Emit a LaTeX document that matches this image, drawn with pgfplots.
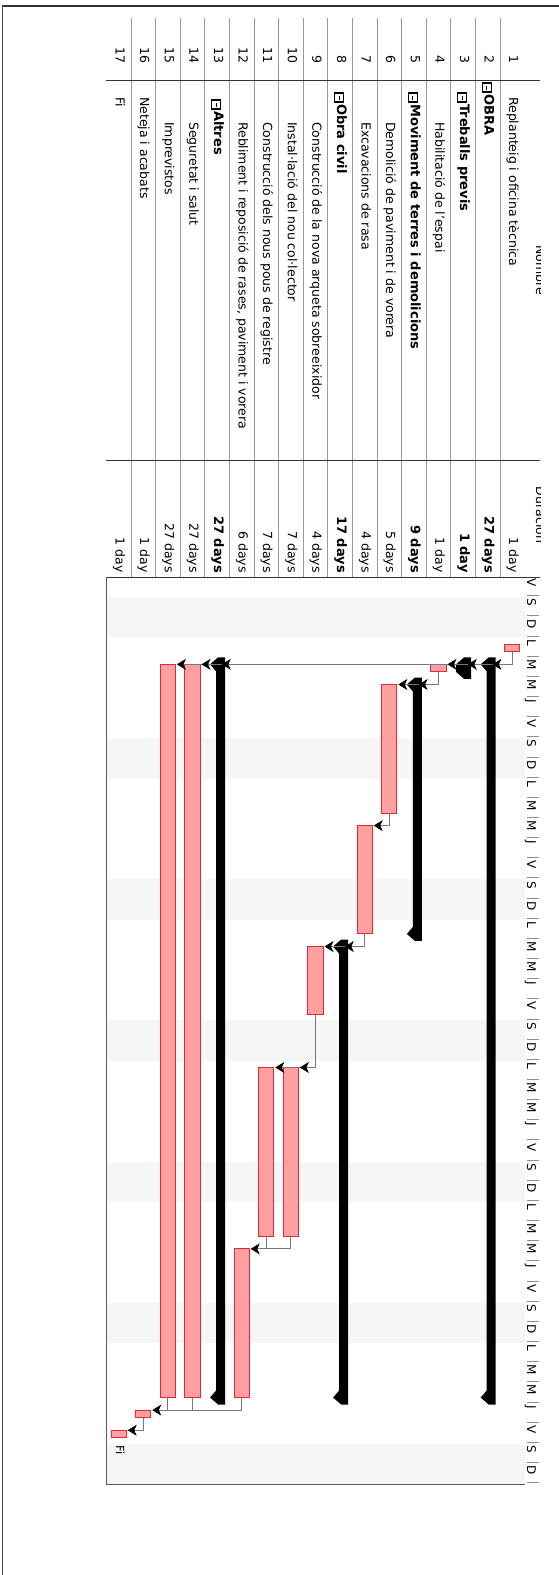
\documentclass[border=0pt]{standalone}
\usepackage{pgfplots}
\pgfplotsset{compat=1.18}
\usepackage{fontspec}
\setmainfont{DejaVu Sans}
\usetikzlibrary{arrows.meta}
\definecolor{barfill}{RGB}{255,160,160}
\definecolor{barline}{RGB}{228,40,52}
\definecolor{deplines}{RGB}{120,120,120}
\definecolor{weekend}{RGB}{246,246,246}
\newcommand\fr{\fontsize{12.5}{14}\selectfont}
\newcommand\fb{\fontsize{13}{15}\selectfont\bfseries}
\newcommand\rx[1]{\pgfmathsetmacro\xc{512.3-(#1-1)*24.6}}
\newcommand\num[1]{\rx{#1}\node[rotate=-90,anchor=east,inner sep=0pt,text height=9pt,text depth=2.8pt,font=\fr] at (\xc,-64) {#1};}
\newcommand\nm[4]{\rx{#1}\node[rotate=-90,anchor=west,inner sep=0pt,text height=9pt,text depth=2.8pt,font=#3] at (\xc,-#2) {#4};}
\newcommand\dur[3]{\rx{#1}\node[rotate=-90,anchor=east,inner sep=0pt,text height=9pt,text depth=2.8pt,font=#2] at (\xc,-573) {#3};}
\newcommand\icon[2]{\rx{#1}\draw[line width=1.1pt] (\xc-5.5,-#2) rectangle (\xc+3.5,-#2-9);\draw[line width=1.1pt] (\xc-1,-#2-2.5) -- (\xc-1,-#2-6.5);}
\tikzset{dep/.style={deplines, line width=0.8pt, -{Stealth[length=9pt,width=11pt,inset=2.5pt,color=black]}},
         depn/.style={deplines, line width=0.8pt}}
\begin{document}
\begin{tikzpicture}[x=1pt,y=1pt]
\path[use as bounding box] (0,0) rectangle (559,-1575);
% outer frame
\draw[line width=1.5pt, black!80] (2,-6) -- (559,-6);
\draw[line width=1pt, black!70] (2,-6) -- (2,-1575);
% table lines
\foreach \k in {1,...,16} {\pgfmathsetmacro\xs{500-(\k-1)*24.6}\draw[black!40, line width=0.8pt] (\xs,-18) -- (\xs,-577);}
\foreach \yy in {80,460,577} {\draw[line width=1pt, black!80] (106.4,-\yy) -- (540,-\yy);}
% header (clipped)
\begin{scope}
\clip (0,0) rectangle (540,-1575);
\node[rotate=-90,anchor=base,inner sep=0pt,font=\fr] at (536,-270) {Nombre};
\node[rotate=-90,anchor=base,inner sep=0pt,font=\fr] at (536,-515) {Duración};
\end{scope}
% row numbers
\foreach \k in {1,...,17} {\num{\k}}
% names
\nm{1}{97}{\fr}{Replanteig i oficina tècnica}
\icon{2}{83}\nm{2}{94}{\fb}{OBRA}
\icon{3}{93}\nm{3}{104}{\fb}{Treballs previs}
\nm{4}{122}{\fr}{Habilitació de l'espai}
\icon{5}{93}\nm{5}{104}{\fb}{Moviment de terres i demolicions}
\nm{6}{122}{\fr}{Demolició de paviment i de vorera}
\nm{7}{122}{\fr}{Excavacions de rasa}
\icon{8}{93}\nm{8}{104}{\fb}{Obra civil}
\nm{9}{122}{\fr}{Construcció de la nova arqueta sobreeixidor}
\nm{10}{122}{\fr}{Instal·lació del nou col·lector}
\nm{11}{122}{\fr}{Construcció dels nous pous de registre}
\nm{12}{122}{\fr}{Rebliment i reposició de rases, paviment i vorera}
\icon{13}{100}\nm{13}{111}{\fb}{Altres}
\nm{14}{122}{\fr}{Seguretat i salut}
\nm{15}{122}{\fr}{Imprevistos}
\nm{16}{97}{\fr}{Neteja i acabats}
\nm{17}{97}{\fr}{Fi}
% durations
\dur{1}{\fr}{1 day}
\dur{2}{\fb}{27 days}
\dur{3}{\fb}{1 day}
\dur{4}{\fr}{1 day}
\dur{5}{\fb}{9 days}
\dur{6}{\fr}{5 days}
\dur{7}{\fr}{4 days}
\dur{8}{\fb}{17 days}
\dur{9}{\fr}{4 days}
\dur{10}{\fr}{7 days}
\dur{11}{\fr}{7 days}
\dur{12}{\fr}{6 days}
\dur{13}{\fb}{27 days}
\dur{14}{\fr}{27 days}
\dur{15}{\fr}{27 days}
\dur{16}{\fr}{1 day}
\dur{17}{\fr}{1 day}
% gantt axis
\begin{axis}[at={(315.5pt,-1030.5pt)}, anchor=center, scale only axis,
  width=418.2pt, height=907pt, xmin=0.5, xmax=17.5, ymin=0, ymax=45,
  x dir=reverse, y dir=reverse, hide axis, clip=false]
% weekends
\addplot[fill=weekend, draw=none] coordinates {(0.5,1) (17.5,1) (17.5,3) (0.5,3)} -- cycle;
\addplot[fill=weekend, draw=none] coordinates {(0.5,8) (17.5,8) (17.5,10) (0.5,10)} -- cycle;
\addplot[fill=weekend, draw=none] coordinates {(0.5,15) (17.5,15) (17.5,17) (0.5,17)} -- cycle;
\addplot[fill=weekend, draw=none] coordinates {(0.5,22) (17.5,22) (17.5,24) (0.5,24)} -- cycle;
\addplot[fill=weekend, draw=none] coordinates {(0.5,29) (17.5,29) (17.5,31) (0.5,31)} -- cycle;
\addplot[fill=weekend, draw=none] coordinates {(0.5,36) (17.5,36) (17.5,38) (0.5,38)} -- cycle;
\addplot[fill=weekend, draw=none] coordinates {(0.5,43) (17.5,43) (17.5,45) (0.5,45)} -- cycle;
% summary bars
\addplot[fill=black, draw=none] coordinates {(1.675,3.986) (1.675,41.055) (1.96,41.055) (2.285,40.708) (2.04,40.361) (2.04,4.680) (2.285,4.333) (1.96,3.986)} -- cycle;
\addplot[fill=black, draw=none] coordinates {(2.675,3.986) (2.675,5.055) (2.96,5.055) (3.285,4.708) (3.285,4.333) (2.96,3.986)} -- cycle;
\addplot[fill=black, draw=none] coordinates {(4.675,4.986) (4.675,18.055) (4.96,18.055) (5.285,17.708) (5.04,17.361) (5.04,5.680) (5.285,5.333) (4.96,4.986)} -- cycle;
\addplot[fill=black, draw=none] coordinates {(7.675,17.986) (7.675,41.055) (7.96,41.055) (8.285,40.708) (8.04,40.361) (8.04,18.680) (8.285,18.333) (7.96,17.986)} -- cycle;
\addplot[fill=black, draw=none] coordinates {(12.675,3.986) (12.675,41.055) (12.96,41.055) (13.285,40.708) (13.04,40.361) (13.04,4.680) (13.285,4.333) (12.96,3.986)} -- cycle;
% task bars
\addplot[fill=barfill, draw=barline, line width=1pt] coordinates {(0.695,3.333) (1.305,3.333) (1.305,3.708) (0.695,3.708)} -- cycle;
\addplot[fill=barfill, draw=barline, line width=1pt] coordinates {(3.695,4.333) (4.305,4.333) (4.305,4.708) (3.695,4.708)} -- cycle;
\addplot[fill=barfill, draw=barline, line width=1pt] coordinates {(5.695,5.333) (6.305,5.333) (6.305,11.708) (5.695,11.708)} -- cycle;
\addplot[fill=barfill, draw=barline, line width=1pt] coordinates {(6.695,12.333) (7.305,12.333) (7.305,17.708) (6.695,17.708)} -- cycle;
\addplot[fill=barfill, draw=barline, line width=1pt] coordinates {(8.695,18.333) (9.305,18.333) (9.305,21.708) (8.695,21.708)} -- cycle;
\addplot[fill=barfill, draw=barline, line width=1pt] coordinates {(9.695,24.333) (10.305,24.333) (10.305,32.708) (9.695,32.708)} -- cycle;
\addplot[fill=barfill, draw=barline, line width=1pt] coordinates {(10.695,24.333) (11.305,24.333) (11.305,32.708) (10.695,32.708)} -- cycle;
\addplot[fill=barfill, draw=barline, line width=1pt] coordinates {(11.695,33.333) (12.305,33.333) (12.305,40.708) (11.695,40.708)} -- cycle;
\addplot[fill=barfill, draw=barline, line width=1pt] coordinates {(13.695,4.333) (14.305,4.333) (14.305,40.708) (13.695,40.708)} -- cycle;
\addplot[fill=barfill, draw=barline, line width=1pt] coordinates {(14.695,4.333) (15.305,4.333) (15.305,40.708) (14.695,40.708)} -- cycle;
\addplot[fill=barfill, draw=barline, line width=1pt] coordinates {(15.695,41.333) (16.305,41.333) (16.305,41.708) (15.695,41.708)} -- cycle;
\addplot[fill=barfill, draw=barline, line width=1pt] coordinates {(16.695,42.333) (17.305,42.333) (17.305,42.708) (16.695,42.708)} -- cycle;
% dependencies
\addplot[dep] coordinates {(1,3.708) (1,4.333) (14.634,4.333)};
\addplot[dep] coordinates {(1,4.333) (13.634,4.333)};
\addplot[dep] coordinates {(1,4.333) (12.81,4.333)};
\addplot[dep] coordinates {(1,4.333) (3.634,4.333)};
\addplot[dep] coordinates {(1,4.333) (2.81,4.333)};
\addplot[dep] coordinates {(1,4.333) (1.81,4.333)};
\addplot[dep] coordinates {(4,4.708) (4,5.333) (5.634,5.333)};
\addplot[dep] coordinates {(4,5.333) (4.81,5.333)};
\addplot[dep] coordinates {(6,11.708) (6,12.333) (6.634,12.333)};
\addplot[dep] coordinates {(7,17.708) (7,18.333) (8.634,18.333)};
\addplot[dep] coordinates {(7,18.333) (7.81,18.333)};
\addplot[dep] coordinates {(9,21.708) (9,24.333) (10.634,24.333)};
\addplot[dep] coordinates {(9,24.333) (9.634,24.333)};
\addplot[dep] coordinates {(10,32.708) (10,33.333) (11.634,33.333)};
\addplot[depn] coordinates {(11,32.708) (11,33.333)};
\addplot[dep] coordinates {(12,40.708) (12,41.333) (15.634,41.333)};
\addplot[depn] coordinates {(14,40.708) (14,41.333)};
\addplot[depn] coordinates {(15,40.708) (15,41.333)};
\addplot[dep] coordinates {(16,41.708) (16,42.333) (16.634,42.333)};
\node[rotate=-90,anchor=west,inner sep=0pt,text height=8pt,text depth=2.5pt,font=\fontsize{11.5}{13}\selectfont] at (axis cs:17,43.1) {Fi};
\end{axis}
% chart frame
\draw[black!65, line width=1pt] (106.4,-577) -- (106.4,-1484) -- (524.6,-1484);
% day header
\foreach \dd/\lt in {0/V,1/S,2/D} {%
  \pgfmathsetmacro\yy{577+\dd*20.156+1.5}
  \node[rotate=-90,anchor=west,inner sep=0pt,text height=8.8pt,text depth=0pt,font=\fontsize{12}{14}\selectfont] at (531.5,-\yy) {\lt};}
\foreach \w in {0,...,5} {\foreach \i/\lt in {0/L,1/M,2/M,3/J,4/V,5/S,6/D} {%
  \pgfmathsetmacro\yy{577+(3+7*\w+\i)*20.156+1.5}
  \node[rotate=-90,anchor=west,inner sep=0pt,text height=8.8pt,text depth=0pt,font=\fontsize{12}{14}\selectfont] at (531.5,-\yy) {\lt};}}
\foreach \dd in {1,...,45} {\pgfmathsetmacro\ys{577+\dd*20.156-1.5}\draw[black!45, line width=0.8pt] (527,-\ys) -- (539,-\ys);}
\end{tikzpicture}
\end{document}
